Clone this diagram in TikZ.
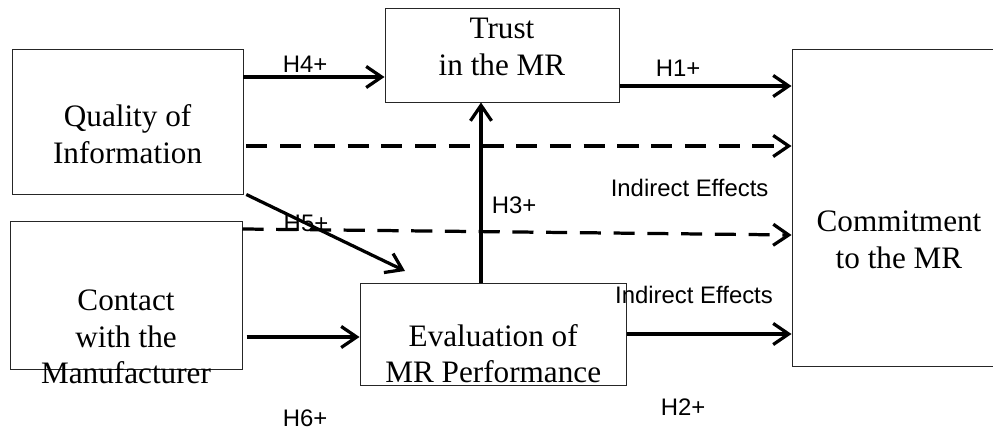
\documentclass[tikz,border=0pt]{standalone}
\usepackage{fontspec}
\setmainfont{Liberation Serif}
\setsansfont{Liberation Sans}
\usetikzlibrary{arrows.meta}

\begin{document}
\begin{tikzpicture}[>={Straight Barb[length=11pt,width=15pt]},scale=1.0,
    box/.style={draw=black!85,line width=0.7pt,inner sep=0pt},
    conn/.style={->,line width=2.3pt},
    dconn/.style={conn,dash pattern=on 15pt off 9pt},
    boxtext/.style={align=center,inner sep=0pt,font=\fontsize{22.2pt}{26pt}\selectfont},
    hyp/.style={inner sep=0pt,font=\sffamily\fontsize{17pt}{20pt}\selectfont}]
    \clip (0,0) rectangle (24.825,10.8);
    \node[box,minimum width=5.775cm,minimum height=3.625cm] (quality) at (3.1875,7.7625) {};
    \node[box,minimum width=5.85cm,minimum height=2.35cm] (trust) at (12.55,9.425) {};
    \node[box,minimum width=5.35cm,minimum height=7.925cm] (commit) at (22.475,5.6125) {};
    \node[box,minimum width=5.8cm,minimum height=3.7cm] (contact) at (3.15,3.425) {};
    \node[box,minimum width=6.65cm,minimum height=2.55cm] (evaluation) at (12.325,2.45) {};
    \node[boxtext] (qualitytxt) at (3.19,7.45) {Quality of\\Information};
    \node[boxtext] (trusttxt) at (12.55,9.62) {Trust\\in the MR};
    \node[boxtext] (contacttxt) at (3.15,2.375) {Contact\\with the\\Manufacturer};
    \node[boxtext] (evaltxt) at (12.33,1.96) {Evaluation of\\MR Performance};
    \node[boxtext] (committxt) at (22.475,4.8) {Commitment\\to the MR};
    \node[hyp] (h4) at (7.625,9.2) {H4+};
    \node[hyp] (h1) at (16.95,9.1) {H1+};
    \node[hyp] (h3) at (12.85,5.675) {H3+};
    \node[hyp] (ind1) at (17.24,6.1) {Indirect Effects};
    \node[hyp] (h5) at (7.65,5.225) {H5+};
    \node[hyp] (ind2) at (17.35,3.425) {Indirect Effects};
    \node[hyp] (h6) at (7.625,0.35) {H6+};
    \node[hyp] (h2) at (17.075,0.625) {H2+};
    % paths
    \coordinate (h5tip) at (10.125,4.025);
    \draw[conn] (quality.east |- 0,8.875) -- (trust.west |- 0,8.875);
    \draw[conn] (trust.east |- 0,8.65) -- (commit.west |- 0,8.65);
    \draw[dconn] ([xshift=2pt]quality.east |- 0,7.15) -- (commit.west |- 0,7.15);
    \draw[conn] (evaluation.north -| 12.025,0) -- (trust.south -| 12.025,0);
    \draw[dconn] (contact.east |- 0,5.075) -- (commit.west |- 0,4.925);
    \draw[conn] ([xshift=2pt]quality.south east) -- (h5tip);
    \draw[conn] ([xshift=3pt]contact.east |- 0,2.375) -- (evaluation.west |- 0,2.375);
    \draw[conn] (evaluation.east) -- (commit.west |- evaluation.east);
\end{tikzpicture}
\end{document}
